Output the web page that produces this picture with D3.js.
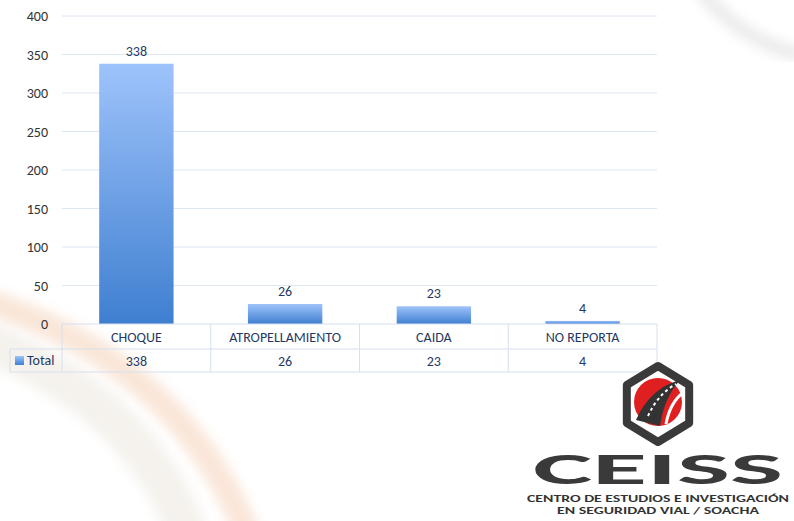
<!DOCTYPE html>
<html>
<meta charset="utf-8">
<style>
body { margin:0; background:#fff; }
text { font-family: Calibri, Carlito, "Liberation Sans", sans-serif; }
</style>
<body>
<script src="https://cdn.jsdelivr.net/npm/d3@7"></script>
<script>
var categories = ["CHOQUE", "ATROPELLAMIENTO", "CAIDA", "NO REPORTA"];
var totals = [338, 26, 23, 4];
var yTicks = [0, 50, 100, 150, 200, 250, 300, 350, 400];

var svg = d3.select("body").append("svg").attr("width", 794).attr("height", 521);
var defs = svg.append("defs");

// background swooshes
defs.append("filter").attr("id", "blur").append("feGaussianBlur").attr("stdDeviation", 6);
svg.append("path").attr("d", "M-20,300 Q180,360 250,540").attr("fill", "none")
  .attr("stroke", "#f6d6bf").attr("stroke-width", 26).attr("opacity", 0.6).attr("filter", "url(#blur)");
svg.append("path").attr("d", "M-20,340 Q140,400 190,540").attr("fill", "none")
  .attr("stroke", "#f1ede6").attr("stroke-width", 40).attr("opacity", 0.7).attr("filter", "url(#blur)");
svg.append("path").attr("d", "M700,-10 Q740,40 800,55").attr("fill", "none")
  .attr("stroke", "#e2e2e2").attr("stroke-width", 14).attr("opacity", 0.7).attr("filter", "url(#blur)");

var bg = defs.append("linearGradient").attr("id", "bar").attr("x1", 0).attr("x2", 0).attr("y1", 0).attr("y2", 1);
bg.append("stop").attr("offset", 0).attr("stop-color", "#9ec3fb");
bg.append("stop").attr("offset", 1).attr("stop-color", "#3f7fd0");

var x = d3.scaleBand().domain(categories).range([62, 657]).paddingInner(0).paddingOuter(0);
var y = d3.scaleLinear().domain([0, 400]).range([324, 16]);

// gridlines
svg.append("g").selectAll("line").data(yTicks.slice(1)).join("line")
  .attr("x1", 62).attr("x2", 657).attr("y1", d => y(d)).attr("y2", d => y(d))
  .attr("stroke", "#dde6f2");

// y labels
svg.append("g").selectAll("text").data(yTicks).join("text")
  .attr("x", 48).attr("y", d => y(d) + 5).attr("text-anchor", "end")
  .attr("font-size", 14).attr("fill", "#333").text(d => d);

var bw = x.bandwidth() * 0.5;
svg.append("g").selectAll("rect").data(totals).join("rect")
  .attr("x", (d, i) => x(categories[i]) + (x.bandwidth() - bw) / 2)
  .attr("width", bw)
  .attr("y", d => y(d)).attr("height", d => y(0) - y(d))
  .attr("fill", "url(#bar)");

svg.append("g").selectAll("text").data(totals).join("text")
  .attr("x", (d, i) => x(categories[i]) + x.bandwidth() / 2)
  .attr("y", d => y(d) - 8).attr("text-anchor", "middle")
  .attr("font-size", 14).attr("fill", "#1f3864").text(d => d);

// data table
var tc = "#d6e0ef";
var r0 = 324, r1 = 349, r2 = 372;
svg.append("line").attr("x1", 62).attr("x2", 657).attr("y1", r0).attr("y2", r0).attr("stroke", tc);
svg.append("line").attr("x1", 10).attr("x2", 657).attr("y1", r1).attr("y2", r1).attr("stroke", tc);
svg.append("line").attr("x1", 10).attr("x2", 657).attr("y1", r2).attr("y2", r2).attr("stroke", tc);
svg.append("line").attr("x1", 10).attr("x2", 10).attr("y1", r1).attr("y2", r2).attr("stroke", tc);
var edges = categories.map(c => x(c)).concat([657]);
svg.append("g").selectAll("line").data(edges).join("line")
  .attr("x1", d => d).attr("x2", d => d).attr("y1", r0).attr("y2", r2).attr("stroke", tc);
svg.append("g").selectAll("text").data(categories).join("text")
  .attr("x", d => x(d) + x.bandwidth() / 2).attr("y", r0 + 18).attr("text-anchor", "middle")
  .attr("font-size", 14).attr("fill", "#1f3864").text(d => d);
svg.append("g").selectAll("text").data(totals).join("text")
  .attr("x", (d, i) => x(categories[i]) + x.bandwidth() / 2).attr("y", r1 + 17).attr("text-anchor", "middle")
  .attr("font-size", 14).attr("fill", "#1f3864").text(d => d);
svg.append("rect").attr("x", 15).attr("y", 356).attr("width", 9).attr("height", 9).attr("fill", "url(#bar)");
svg.append("text").attr("x", 27).attr("y", r1 + 16).attr("font-size", 14).attr("fill", "#1f3864").text("Total");

// logo
var lg = svg.append("g");
var cx = 658, cy = 404;
var hex = d3.range(6).map(i => {
  var a = Math.PI / 3 * i - Math.PI / 2;
  return [cx + 36 * Math.cos(a), cy + 38 * Math.sin(a)];
});
lg.append("polygon").attr("points", hex.join(" ")).attr("fill", "#fff")
  .attr("stroke", "#3a3a3a").attr("stroke-width", 8).attr("stroke-linejoin", "round");
lg.append("circle").attr("cx", cx).attr("cy", cy - 2).attr("r", 24).attr("fill", "#e02020");
lg.append("path").attr("d", `M${cx-22},${cy+16} Q${cx-8},${cy-16} ${cx+22},${cy-24} Q${cx+6},${cy-6} ${cx+2},${cy+22} Z`).attr("fill", "#333");
lg.append("path").attr("d", `M${cx-10},${cy+12} Q${cx},${cy-10} ${cx+18},${cy-20}`).attr("fill", "none")
  .attr("stroke", "#fff").attr("stroke-width", 2).attr("stroke-dasharray", "3,3");
lg.append("path").attr("d", `M${cx+8},${cy+20} Q${cx+12},${cy-2} ${cx+26},${cy-12}`).attr("fill", "none").attr("stroke", "#fff").attr("stroke-width", 3);
lg.append("text").attr("x", 658).attr("y", 484).attr("text-anchor", "middle")
  .attr("font-family", "'DejaVu Sans', sans-serif").attr("font-weight", "bold")
  .attr("font-size", 44).attr("fill", "#3a3a3a").attr("textLength", 250).attr("lengthAdjust", "spacingAndGlyphs").text("CEISS");
lg.append("text").attr("x", 658).attr("y", 502).attr("text-anchor", "middle")
  .attr("font-family", "'DejaVu Sans', sans-serif").attr("font-weight", "bold")
  .attr("font-size", 9).attr("fill", "#333").attr("textLength", 262).attr("lengthAdjust", "spacingAndGlyphs")
  .text("CENTRO DE ESTUDIOS E INVESTIGACIÓN");
lg.append("text").attr("x", 658).attr("y", 514).attr("text-anchor", "middle")
  .attr("font-family", "'DejaVu Sans', sans-serif").attr("font-weight", "bold")
  .attr("font-size", 9).attr("fill", "#333").attr("textLength", 202).attr("lengthAdjust", "spacingAndGlyphs")
  .text("EN SEGURIDAD VIAL / SOACHA");
</script>
</body>
</html>
